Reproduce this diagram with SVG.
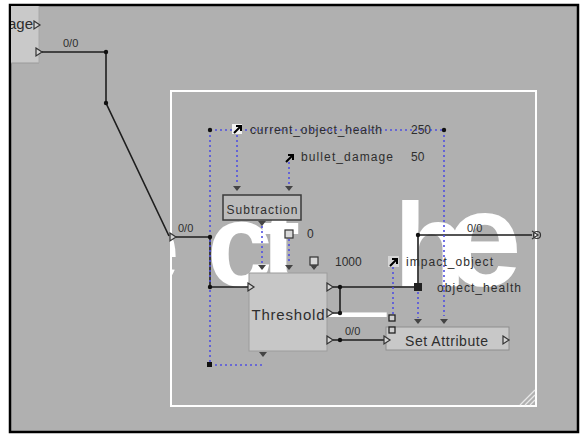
<svg xmlns="http://www.w3.org/2000/svg" width="581" height="435" viewBox="0 0 581 435">
<style>
text{font-family:"Liberation Sans",Arial,sans-serif;fill:#2e2e2e}
.lbl{font-size:11px}
.wire{fill:none;stroke:#1e1e1e;stroke-width:1.6}
.dot{fill:none;stroke:#5050e0;stroke-width:1.6;stroke-dasharray:2 3}
.port{fill:#d4d4d4;stroke:#333;stroke-width:1.2}
.arr{fill:#444}
.jd{fill:#111}
</style>
<defs>
<clipPath id="fc"><rect x="171" y="91" width="365" height="315"/></clipPath>
<clipPath id="nc"><rect x="11" y="6" width="40" height="57"/></clipPath>
<path id="tri" d="M0,-4 L6,0 L0,4 Z" class="port"/>
<path id="dn" d="M-4,-3 H4 L0,2 Z" class="arr"/>
</defs>
<rect x="0" y="0" width="581" height="435" fill="#ffffff"/>
<rect x="10" y="5" width="568" height="427" fill="#b0b0b0" stroke="#000" stroke-width="2.5"/>
<g id="frame">
<text x="0" y="286" clip-path="url(#fc)" style="font-size:118px;font-weight:bold;fill:#ffffff"><tspan x="114">e</tspan><tspan x="207">c</tspan><tspan x="261">t</tspan><tspan x="320" y="302">_</tspan><tspan x="394" y="286">h</tspan><tspan x="446" style="font-size:136px">e</tspan></text>
<rect x="171" y="91" width="365" height="315" fill="none" stroke="#ffffff" stroke-width="2"/>
<path d="M520,405 L535,390 M525,405 L535,395 M530,405 L535,400" stroke="#e8e8e8" stroke-width="1.3"/>
</g>
<g id="node-source">
<rect x="11" y="6" width="28" height="57" fill="#c9c9c9"/>
<line x1="11" y1="63" x2="39" y2="63" stroke="#9a9a9a" stroke-width="1"/>
<line x1="39" y1="6" x2="39" y2="63" stroke="#a8a8a8" stroke-width="1"/>
<text x="33" y="29" text-anchor="end" clip-path="url(#nc)" style="font-size:15px">age</text>
<use href="#tri" x="34" y="25"/>
<use href="#tri" x="36" y="52"/>
</g>
<g id="connectors">
<polyline class="wire" points="42,52 106,52 106,103 169,236"/>
<polyline class="wire" points="176,237 210,237 210,287 249,287"/>
<polyline class="wire" points="333,287 418,287"/>
<polyline class="wire" points="340,287 340,313 333,313"/>
<polyline class="wire" points="418,287 418,235 532,235"/>
<polyline class="wire" points="333,340 386,340"/>
<polyline class="dot" points="210,130 444,130"/>
<polyline class="dot" points="210,130 210,365 263,365"/>
<polyline class="dot" points="444,130 444,316"/>
<polyline class="dot" points="237,135 237,185"/>
<polyline class="dot" points="289,162 289,185"/>
<polyline class="dot" points="262,226 262,264"/>
<polyline class="dot" points="289,239 289,264"/>
<polyline class="dot" points="393,267 393,314"/>
<polyline class="dot" points="418,292 418,318"/>
<g class="jd">
<circle cx="106" cy="52" r="2.2"/><circle cx="106" cy="103" r="2.2"/>
<circle cx="210" cy="237" r="2.2"/><circle cx="210" cy="287" r="2.2"/>
<circle cx="340" cy="287" r="2.2"/><circle cx="340" cy="313" r="2.2"/>
<circle cx="418" cy="235" r="2.2"/><circle cx="340" cy="340" r="2.2"/>
<circle cx="210" cy="130" r="2.2"/><circle cx="444" cy="130" r="2.2"/>
<rect x="207" y="362" width="5" height="5"/>
</g>
<text class="lbl" x="63" y="47">0/0</text>
<text class="lbl" x="178" y="232">0/0</text>
<text class="lbl" x="467" y="232">0/0</text>
<text class="lbl" x="345" y="335">0/0</text>
<use href="#tri" x="170" y="237"/>
<path d="M532,231 L538,235 L532,239" fill="none" stroke="#333" stroke-width="1.2"/>
<circle cx="537" cy="235" r="3.5" fill="none" stroke="#333" stroke-width="1.2"/>
</g>
<g id="var-current">
<rect x="232" y="124" width="10" height="10" fill="#f2f2f2"/>
<path d="M234,133 L240,127 M236,126 H241 V131" stroke="#000" stroke-width="2" fill="none"/>
<text x="250" y="134" style="font-size:12px" textLength="132">current_object_health</text>
<text x="411" y="134" style="font-size:12px">250</text>
</g>
<g id="var-bullet">
<path d="M286,162 L292,156 M288,155 H293 V160" stroke="#000" stroke-width="2" fill="none"/>
<text x="301" y="161" style="font-size:12px" textLength="92">bullet_damage</text>
<text x="411" y="161" style="font-size:12px">50</text>
</g>
<g id="const-zero">
<rect x="285" y="230" width="8" height="8" fill="#d8d8d8" stroke="#333" stroke-width="1.2"/>
<text x="307" y="238" style="font-size:12px">0</text>
</g>
<g id="const-1000">
<rect x="310" y="257" width="8" height="8" fill="#d8d8d8" stroke="#333" stroke-width="1.2"/>
<rect x="312" y="265" width="4" height="3" fill="#444"/>
<text x="335" y="266" style="font-size:12px">1000</text>
</g>
<g id="var-impact">
<rect x="388" y="256" width="11" height="11" fill="#d6d6d6"/>
<path d="M390,266 L396,260 M392,259 H397 V264" stroke="#000" stroke-width="2" fill="none"/>
<text x="406" y="266" style="font-size:12px" textLength="87">impact_object</text>
</g>
<g id="var-object-health">
<rect x="414" y="283" width="8" height="8" fill="#222"/>
<text x="437" y="292" style="font-size:12px" textLength="84">object_health</text>
</g>
<g id="node-subtraction">
<rect x="223" y="195" width="78" height="25" fill="#bbbbbb" stroke="#3a3a3a" stroke-width="1.5"/>
<text x="262" y="214" text-anchor="middle" style="font-size:12px" textLength="71">Subtraction</text>
<use href="#dn" x="237" y="189"/>
<use href="#dn" x="289" y="189"/>
<use href="#dn" x="262" y="224"/>
</g>
<g id="node-threshold">
<rect x="249" y="273" width="78" height="78" fill="#c7c7c7" stroke="#9c9c9c" stroke-width="1"/>
<text x="288" y="320" text-anchor="middle" style="font-size:15px" textLength="73">Threshold</text>
<use href="#dn" x="262" y="268"/>
<use href="#dn" x="289" y="268"/>
<use href="#dn" x="314" y="268"/>
<use href="#dn" x="263" y="355"/>
<use href="#tri" x="248" y="287"/>
<use href="#tri" x="327" y="287"/>
<use href="#tri" x="327" y="313"/>
<use href="#tri" x="327" y="340"/>
</g>
<g id="node-setattribute">
<rect x="386" y="327" width="123" height="23" fill="#c8c8c8" stroke="#8e8e8e" stroke-width="1"/>
<text x="405" y="346" style="font-size:14px" textLength="83">Set Attribute</text>
<rect x="389" y="315" width="6" height="6" fill="#cfcfcf" stroke="#222" stroke-width="1.3"/>
<rect x="389" y="327" width="6" height="6" fill="#cfcfcf" stroke="#222" stroke-width="1.3"/>
<use href="#tri" x="384" y="340"/>
<use href="#tri" x="503" y="340"/>
<use href="#dn" x="418" y="322"/>
<use href="#dn" x="444" y="322"/>
</g>
</svg>
